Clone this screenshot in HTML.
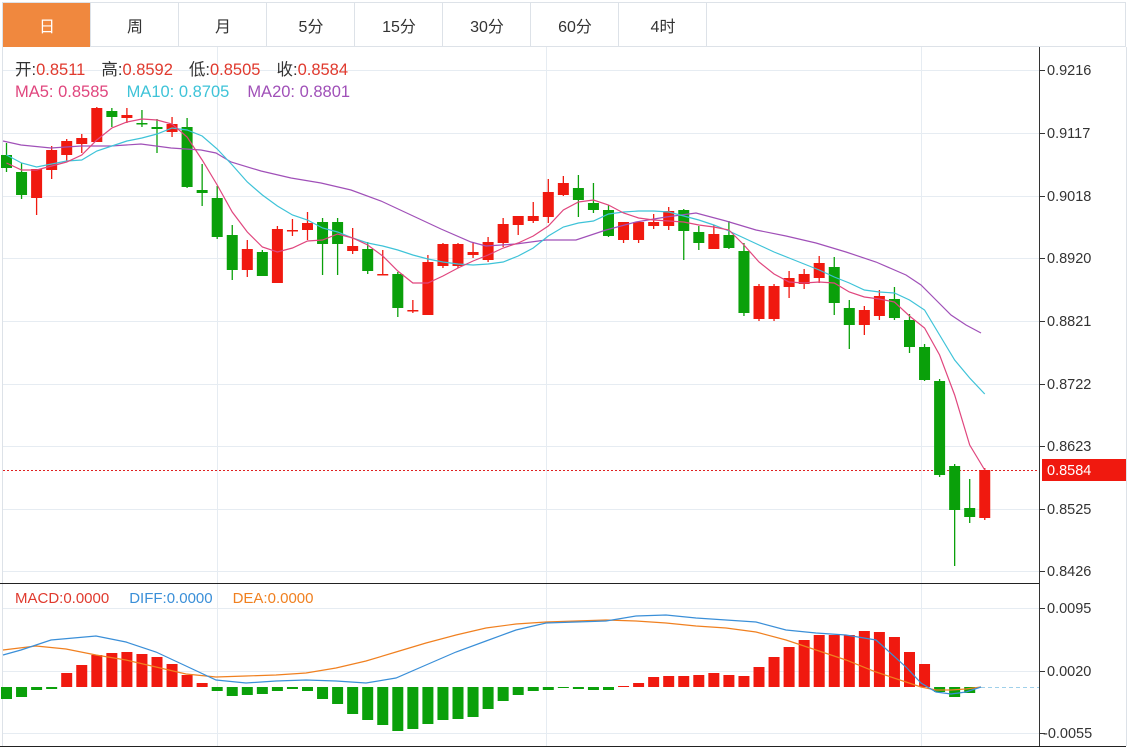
<!DOCTYPE html>
<html><head><meta charset="utf-8"><style>
body{margin:0;background:#fff;width:1136px;height:750px;overflow:hidden;font-family:"Liberation Sans","Noto Sans CJK SC",sans-serif}
svg{position:absolute;left:0;top:0}
</style></head><body>
<svg id="s" width="1136" height="750" xmlns="http://www.w3.org/2000/svg" font-family="Liberation Sans, Noto Sans CJK SC, sans-serif">
</svg>
<script>
const s=document.getElementById('s');let h='';
h+='<rect x="2.5" y="2.5" width="1123" height="44" fill="#fff" stroke="#dde2e8"/>';
const tabs=['日','周','月','5分','15分','30分','60分','4时'];
tabs.forEach((t,i)=>{const x=3+i*88;
 if(i==0)h+=`<rect x="3" y="3" width="87" height="44" fill="#f0883e"/>`;
 else h+=`<line x1="${x+88-0.5}" y1="3" x2="${x+88-0.5}" y2="47" stroke="#dde2e8"/>`;
 h+=`<text x="${x+44}" y="32" font-size="16" text-anchor="middle" fill="${i?'#333':'#fff'}">${t}</text>`;});
h+='<line x1="90.5" y1="3" x2="90.5" y2="47" stroke="#dde2e8"/>';
h+='<line x1="2.5" y1="47" x2="2.5" y2="746" stroke="#dde2e8"/><line x1="1126.5" y1="47" x2="1126.5" y2="746" stroke="#dde2e8"/>';
[70,133,196,258,321,384,446,509,571].forEach(y=>h+=`<line x1="3" y1="${y+.5}" x2="1039" y2="${y+.5}" stroke="#e6ecf2"/>`);
[608,671,733].forEach(y=>h+=`<line x1="3" y1="${y+.5}" x2="1039" y2="${y+.5}" stroke="#e6ecf2"/>`);
[217,546,921].forEach(x=>h+=`<line x1="${x+.5}" y1="47" x2="${x+.5}" y2="746" stroke="#e6ecf2"/>`);
h+='<line x1="1039.5" y1="47" x2="1039.5" y2="746" stroke="#333"/>';
h+='<line x1="0" y1="583.5" x2="1039" y2="583.5" stroke="#222"/><line x1="0" y1="746.5" x2="1126" y2="746.5" stroke="#222"/>';
[[70,'0.9216'],[133,'0.9117'],[196,'0.9018'],[258,'0.8920'],[321,'0.8821'],[384,'0.8722'],[446,'0.8623'],[509,'0.8525'],[571,'0.8426'],[608,'0.0095'],[671,'0.0020'],[733,'-0.0055']].forEach(([y,t])=>{
 h+=`<line x1="1039" y1="${y+.5}" x2="1045" y2="${y+.5}" stroke="#333"/><text x="${t[0]=='-'?1043:1047}" y="${y+5}" font-size="14.5" fill="#333">${t}</text>`;});
h+='<line x1="3" y1="470.5" x2="1039" y2="470.5" stroke="#e02020" stroke-dasharray="2,2"/>';
h+='<rect x="1042" y="459" width="84" height="22" fill="#f0190f"/><text x="1047" y="475" font-size="14.5" fill="#fff">0.8584</text>';
const C=[[155,168,143,172,'g'],[172,195,163,199,'g'],[169,198,169,215,'r'],[150,170,146,179,'r'],[141,155,139,161,'r'],[138,144,134,153,'r'],[108,142,107,142,'r'],[111,117,108,127,'g'],[115,118,108,123,'r'],[123,124,110,127,'g'],[127,129,119,153,'g'],[124,132,117,137,'r'],[127,187,118,188,'g'],[190,193,164,206,'g'],[198,237,186,239,'g'],[235,270,225,280,'g'],[249,270,240,277,'r'],[252,276,250,276,'g'],[229,283,226,283,'r'],[230,231,219,236,'r'],[223,230,212,240,'r'],[222,244,218,275,'g'],[222,244,218,275,'g'],[246,251,228,254,'r'],[249,271,242,274,'g'],[274,275,250,275,'r'],[274,308,272,317,'g'],[310,311,300,313,'r'],[262,315,255,315,'r'],[244,266,243,268,'r'],[244,266,243,268,'r'],[252,255,242,258,'r'],[242,260,237,262,'r'],[224,243,218,247,'r'],[216,225,216,235,'r'],[216,221,202,223,'r'],[192,217,179,223,'r'],[183,195,176,196,'r'],[188,200,175,217,'g'],[203,210,183,213,'g'],[210,236,205,237,'g'],[222,240,222,243,'r'],[222,240,222,243,'r'],[222,226,214,229,'r'],[211,226,207,230,'r'],[210,231,209,260,'g'],[232,243,226,250,'g'],[234,249,225,249,'r'],[235,248,221,249,'g'],[251,313,243,316,'g'],[286,319,284,321,'r'],[286,319,284,321,'r'],[278,287,271,298,'r'],[274,284,269,289,'r'],[263,278,256,283,'r'],[267,303,257,315,'g'],[308,325,300,349,'g'],[310,325,306,335,'r'],[296,316,290,320,'r'],[299,318,287,320,'g'],[320,347,314,353,'g'],[347,380,344,381,'g'],[381,475,379,477,'g'],[466,510,464,566,'g'],[508,517,479,523,'g'],[470,518,468,520,'r']];
const X=i=>6.5+i*15.05;
C.forEach((c,i)=>{const x=X(i),col=c[4]=='r'?'#f0190f':'#0aa00a';
 h+=`<line x1="${x}" y1="${c[2]}" x2="${x}" y2="${c[3]}" stroke="${col}" stroke-width="1.3"/>`;
 h+=`<rect x="${x-5.5}" y="${c[0]}" width="11" height="${Math.max(1.5,c[1]-c[0])}" fill="${col}"/>`;});
function pl(pts,col){return `<polyline fill="none" stroke="${col}" stroke-width="1.2" points="${pts.map(p=>p.join(',')).join(' ')}"/>`;}
const idx=a=>a.map((y,i)=>[X(i),y]);
h+=pl([[3,141],[21,145],[51,148],[81,146],[111,146],[141,144],[171,148],[201,150],[216,153],[231,162],[261,171],[291,178],[321,183],[351,190],[381,201],[411,215],[441,229],[471,242],[486,246],[516,244],[546,240],[576,240],[606,230],[636,222],[666,217],[696,213],[726,221],[756,230],[786,236],[816,243],[846,252],[876,262],[906,275],[921,285],[936,300],[951,315],[966,325],[981,333]],'#a050b8');
h+=pl(idx([155,163,167,164,161,160,151,146,141,138,134,128,130,136,149,165,182,195,206,215,220,228,232,238,243,246,250,255,259,262,264,265,264,262,256,248,236,227,223,221,214,212,211,211,212,216,220,225,231,238,245,252,258,264,270,277,283,290,292,293,300,310,335,360,378,394]),'#3ec3d8');
h+=pl(idx([163,170,170,166,162,155,140,128,122,119,120,124,137,160,185,212,232,247,252,248,241,240,234,238,245,256,271,283,283,276,268,261,255,248,243,236,226,210,202,200,205,213,218,220,221,222,225,227,230,245,262,274,282,283,282,283,292,297,299,302,316,328,355,395,445,470]),'#e0467e');
const M=[-12,-10,-3,-2,14,22,32,34,35,33,30,23,12,4,-4,-9,-8,-7,-4,-2,-4,-12,-17,-27,-33,-38,-44,-42,-37,-33,-32,-30,-22,-14,-8,-4,-3,-1,-2,-3,-3,1,4,10,11,11,12,14,12,11,20,30,40,47,52,52,52,56,55,50,35,23,-5,-10,-6];
M.forEach((v,i)=>{const x=X(i),col=v>0?'#f0190f':'#0aa00a';h+=`<rect x="${x-5.5}" y="${v>0?687-v:687}" width="11" height="${Math.abs(v)}" fill="${col}"/>`;});
h+='<line x1="981" y1="687.5" x2="1039" y2="687.5" stroke="#9fd0ea" stroke-dasharray="4,3"/>';
h+=pl([[3,650],[36,646],[66,649],[96,655],[126,660],[156,667],[186,674],[216,677],[246,676],[276,675],[306,673],[336,668],[366,661],[396,652],[426,643],[456,635],[486,628],[516,624],[546,622],[576,621],[606,620],[636,621],[666,623],[696,626],[726,628],[756,632],[786,640],[816,650],[846,660],[876,672],[906,682],[921,687],[936,690],[951,690],[966,689],[981,687]],'#f08020');
h+=pl([[3,655],[21,650],[51,640],[96,636],[126,642],[156,652],[186,666],[216,680],[246,683],[276,681],[306,680],[336,681],[366,683],[396,678],[426,665],[456,652],[486,641],[516,630],[546,623],[576,622],[606,621],[636,616],[666,615],[696,618],[726,620],[756,622],[786,630],[816,633],[846,635],[876,640],[906,667],[921,683],[936,692],[951,694],[966,692],[981,687]],'#3a8fd8');
h+='<text y="75" font-size="16.5"><tspan x="15" fill="#333">开:</tspan><tspan fill="#e03a2e">0.8511</tspan><tspan dx="16" fill="#333">高:</tspan><tspan fill="#e03a2e">0.8592</tspan><tspan dx="16" fill="#333">低:</tspan><tspan fill="#e03a2e">0.8505</tspan><tspan dx="16" fill="#333">收:</tspan><tspan fill="#e03a2e">0.8584</tspan></text>';
h+='<text y="97" font-size="16.5"><tspan x="15" fill="#e0467e">MA5: 0.8585</tspan><tspan dx="18" fill="#3ec3d8">MA10: 0.8705</tspan><tspan dx="18" fill="#a050b8">MA20: 0.8801</tspan></text>';
h+='<text y="603" font-size="15"><tspan x="15" fill="#e03a2e">MACD:0.0000</tspan><tspan dx="20" fill="#3a8fd8">DIFF:0.0000</tspan><tspan dx="20" fill="#f08020">DEA:0.0000</tspan></text>';
s.innerHTML=h;
</script>
</body></html>
